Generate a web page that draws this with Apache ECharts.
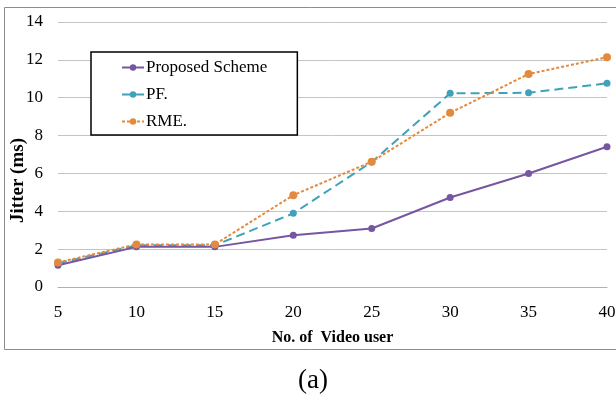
<!DOCTYPE html>
<html>
<head>
<meta charset="utf-8">
<script src="https://cdn.jsdelivr.net/npm/echarts@6/dist/echarts.min.js"></script>
<style>
  html, body { margin: 0; padding: 0; background: #fff; }
  #chartmain { width: 616px; height: 403px; }
</style>
</head>
<body>
<div id="chartmain"></div>
<script>
// number of video users (x axis)
var users = ['5', '10', '15', '20', '25', '30', '35', '40'];
var seriesNames = ['Proposed Scheme', 'PF.', 'RME.'];
// jitter in ms
var proposed = [1.15, 2.12, 2.12, 2.73, 3.09, 4.73, 6.0, 7.41];
var pf = [1.25, 2.2, 2.2, 3.89, 6.6, 10.23, 10.26, 10.76];
var rme = [1.3, 2.25, 2.25, 4.85, 6.62, 9.2, 11.25, 12.14];

var serif = 'Liberation Serif';

var option = {
  backgroundColor: '#ffffff',
  animation: false,
  // outer frame and caption
  graphic: [
    {
      type: 'rect',
      shape: { x: 4.5, y: 7.5, width: 630, height: 342 },
      style: { fill: 'none', stroke: '#8c8c8c', lineWidth: 1 }
    },
    {
      type: 'text',
      left: 298,
      top: 367,
      style: { text: '(a)', font: '27px "Liberation Serif"', fill: '#000' }
    }
  ],
  grid: { left: 58, right: 9, top: 22, bottom: 116, outerBoundsMode: 'none' },
  legend: {
    data: seriesNames,
    orient: 'vertical',
    left: 91,
    top: 52,
    padding: [7, 30, 5, 30],
    itemGap: 10,
    itemWidth: 22,
    itemHeight: 8,
    borderColor: '#000',
    borderWidth: 1.5,
    backgroundColor: '#fff',
    textStyle: { fontFamily: serif, fontSize: 17, color: '#000', padding: [0, 0, 0, -3] }
  },
  xAxis: {
    type: 'category',
    data: users,
    boundaryGap: false,
    name: 'No. of  Video user',
    nameLocation: 'middle',
    nameGap: 43,
    nameMoveOverlap: false,
    nameTextStyle: { fontFamily: serif, fontSize: 16, fontWeight: 'bold', color: '#000' },
    axisLine: { lineStyle: { color: '#b0b0b0' } },
    axisTick: { show: false },
    axisLabel: { fontFamily: serif, fontSize: 17, color: '#000', margin: 17 }
  },
  yAxis: {
    type: 'value',
    min: 0,
    max: 14,
    interval: 2,
    name: 'Jitter (ms)',
    nameLocation: 'middle',
    nameGap: 30,
    nameMoveOverlap: false,
    nameTextStyle: {
      fontFamily: serif, fontSize: 19, fontWeight: 'bold', color: '#000',
      padding: [0, 52, 0, 0]
    },
    axisLine: { show: false },
    axisTick: { show: false },
    axisLabel: { fontFamily: serif, fontSize: 17, color: '#000', margin: 15 },
    splitLine: { lineStyle: { color: '#c4c4c4' } }
  },
  series: [
    {
      name: seriesNames[0],
      type: 'line',
      data: proposed,
      symbol: 'circle',
      symbolSize: 7,
      color: '#7656a0',
      lineStyle: { width: 2, type: 'solid' },
      z: 3
    },
    {
      name: seriesNames[1],
      type: 'line',
      data: pf,
      symbol: 'circle',
      symbolSize: 7,
      color: '#3fa2ba',
      lineStyle: { width: 2, type: [9, 5] },
      z: 2
    },
    {
      name: seriesNames[2],
      type: 'line',
      data: rme,
      symbol: 'circle',
      symbolSize: 8,
      color: '#e5893d',
      lineStyle: { width: 2, type: [3, 2] },
      z: 4
    }
  ]
};

var myChart = echarts.init(document.getElementById('chartmain'));
myChart.setOption(option);
</script>
</body>
</html>
